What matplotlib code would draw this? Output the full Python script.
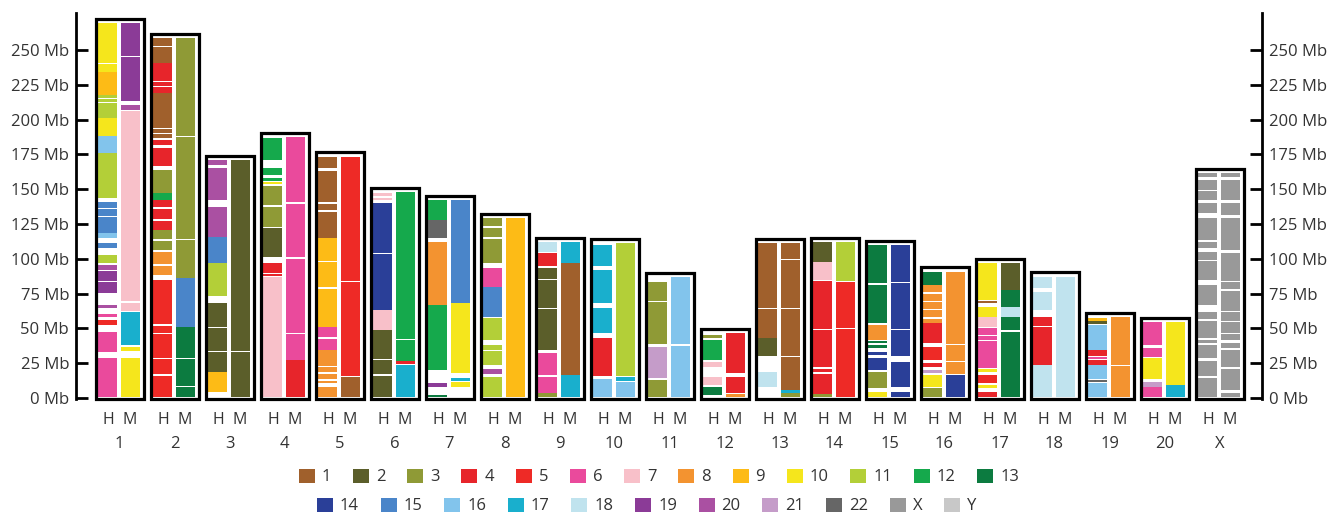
import matplotlib
matplotlib.use('Agg')
import matplotlib.pyplot as plt
import matplotlib.transforms as mtransforms
from matplotlib.patches import Rectangle, Patch

plt.rcParams['font.family'] = ['Open Sans', 'DejaVu Sans']

chroms = ['1', '2', '3', '4', '5', '6', '7', '8', '9', '10',
          '11', '12', '13', '14', '15', '16', '17', '18', '19', '20', 'X']
legend_row1 = ['1', '2', '3', '4', '5', '6', '7', '8', '9', '10', '11', '12', '13']
legend_row2 = ['14', '15', '16', '17', '18', '19', '20', '21', '22', 'X', 'Y']
yticks = [0, 25, 50, 75, 100, 125, 150, 175, 200, 225, 250]

# blocks: (start Mb, end Mb, chromosome of origin)
h1 = [(241, 269.2, '10'), (234.4, 240, '10'), (217.7, 234.4, '9'), (215.5, 217.5, '11'),
      (212.5, 214.8, '11'), (201, 211.7, '11'), (188, 201, '10'), (176, 188, '16'),
      (143.4, 176, '11'), (136.5, 141, '15'), (130.5, 135.8, '15'), (118.3, 130, '15'),
      (115, 118.3, '16'), (107.5, 111.1, '15'), (97, 102.7, '11'), (92, 95.5, '20'),
      (84, 91.5, '19'), (75.2, 83.5, '19'), (64.4, 66.8, '20'), (58.5, 60.5, '6'),
      (52.4, 56, '5'), (33.3, 47.7, '6'), (1, 28.5, '6')]
m1 = [(246, 269.2, '19'), (213.5, 245, '19'), (207, 210.5, '20'), (69.5, 206, '7'),
      (62.5, 68.5, '7'), (38, 62, '17'), (33.5, 37, '10'), (1, 28.5, '10')]
h2 = [(253, 258.4, '1'), (241, 252, '1'), (228, 240.4, '4'), (224.5, 227, '4'),
      (219, 223.5, '4'), (194, 219, '1'), (190.5, 193.5, '1'), (186.5, 189.5, '1'),
      (182, 185.5, '4'), (166.5, 179.4, '4'), (147, 163.8, '3'), (142.5, 147, '12'),
      (137, 142, '4'), (128.5, 136, '4'), (121, 127.5, '4'), (114, 120.7, '3'),
      (106.5, 113, '3'), (96, 105, '8'), (88.5, 95, '8'), (53, 84.8, '5'), (50.5, 52, '5'),
      (47, 50, '5'), (29, 46, '5'), (17, 28, '5'), (1, 16, '5')]
m2 = [(188.5, 258.4, '3'), (114.5, 187.8, '3'), (86.5, 113.8, '3'), (51, 86, '15'),
      (28.5, 51, '13'), (8.5, 27.9, '13'), (1, 7.9, '13')]
h3 = [(167.5, 171, '20'), (142.5, 165, '20'), (116, 137.5, '20'), (97, 116, '15'),
      (73, 97, '11'), (51, 68, '2'), (33.5, 50.4, '2'), (19, 32.9, '2'), (4.5, 19, '9')]
m3 = [(33.5, 171, '2'), (1, 32.9, '2')]
h4 = [(171, 186.5, '12'), (160.2, 165, '12'), (156, 158, '12'), (154, 155.5, '10'),
      (139, 152.5, '3'), (123, 137.5, '3'), (101.5, 122, '2'), (90, 96.7, '4'),
      (87.5, 89, '4'), (1, 87, '7')]
m4 = [(141, 187.7, '6'), (101, 139.5, '6'), (47, 100, '6'), (27.5, 46, '6'), (1, 27.3, '4')]
h5 = [(165, 172.9, '1'), (141, 162.8, '1'), (135, 139.3, '1'), (115, 133.5, '1'),
      (98.5, 114.7, '9'), (79.5, 97.5, '9'), (51.2, 78.5, '9'), (43.5, 51.2, '6'),
      (34.5, 42.5, '6'), (23, 34.5, '8'), (18.5, 22, '8'), (13.5, 17, '8'),
      (10.5, 12.5, '8'), (1, 8, '8')]
m5 = [(84, 173.4, '5'), (15.5, 83, '5'), (1, 15.3, '1')]
h6 = [(145, 147, '7'), (142.5, 144, '7'), (104.5, 139.8, '14'), (63.2, 103.5, '14'),
      (49, 63.2, '7'), (27.8, 48.9, '2'), (17, 27, '2'), (1, 16, '2')]
m6 = [(104.5, 148.2, '12'), (42.3, 103.9, '12'), (26.8, 41.7, '12'), (24.5, 26.5, '4'),
      (1, 24, '17')]
h7 = [(128, 142.2, '12'), (115, 127.9, '22'), (67, 112.3, '8'), (20.1, 66.8, '12'),
      (8.1, 10.5, '19'), (0.8, 2.2, '13')]
m7 = [(68, 142.2, '15'), (18, 68, '10'), (12, 14.5, '17'), (8, 11.7, '10')]
h8 = [(123.5, 129.1, '3'), (115.5, 121.9, '3'), (97, 114.5, '3'), (80, 93.2, '6'),
      (58.4, 80, '15'), (42, 57.2, '11'), (34.5, 38, '11'), (24, 33.5, '11'),
      (17, 21, '20'), (1, 15.3, '11')]
m8 = [(1, 129.1, '9')]
h9 = [(105.1, 112.3, '18'), (94.5, 104, '4'), (85.3, 93.2, '2'), (64.9, 84.7, '2'),
      (43.4, 64.3, '2'), (34.5, 42.8, '2'), (16.5, 32, '6'), (3.5, 15, '6'), (1, 3.4, '3')]
m9 = [(97, 112.3, '17'), (16.5, 96.7, '1'), (1, 16.5, '17')]
h10 = [(94.5, 110, '17'), (68, 92, '17'), (46.5, 64.4, '17'), (15.5, 42.9, '4'), (1, 14, '16')]
m10 = [(15.5, 111.1, '11'), (12, 15.3, '17'), (1, 11.7, '16')]
h11 = [(69.5, 83.6, '3'), (38.5, 68.9, '3'), (14.1, 36.9, '21'), (1, 12.9, '3')]
m11 = [(38.6, 87.1, '16'), (1, 37.6, '16')]
h12 = [(43.3, 45.3, '3'), (27.3, 41.7, '12'), (22.5, 26.1, '7'), (9.3, 15.3, '7'),
       (2.2, 8.1, '13')]
m12 = [(18, 46.5, '4'), (3.4, 15.3, '4'), (1, 3, '8')]
h13 = [(64.9, 111.1, '1'), (43, 64.3, '1'), (30, 42.9, '2'), (8.1, 18.9, '18')]
m13 = [(99.6, 111.1, '1'), (64.9, 99, '1'), (30.2, 64.3, '1'), (6, 29.6, '1'),
       (3.5, 5.7, '17'), (1, 3.4, '3')]
h14 = [(98, 112.3, '2'), (85, 97.9, '7'), (49.5, 84, '4'), (22, 48.5, '4'),
       (18.5, 21, '4'), (3, 17.5, '4'), (1, 3, '3')]
m14 = [(84, 112.3, '11'), (50.5, 83.6, '5'), (1, 49.5, '5')]
h15 = [(82.4, 109.9, '13'), (53.6, 81.2, '13'), (42, 52.4, '8'), (39.5, 41.3, '13'),
       (36, 38, '13'), (31, 33.3, '14'), (20.1, 28.5, '14'), (7, 18.9, '3'), (1, 4.5, '10')]
m15 = [(83, 109.9, '14'), (49.5, 82.4, '14'), (30, 48.9, '14'), (8.1, 26.1, '14'),
       (1, 4.5, '14')]
h16 = [(81.2, 90.8, '13'), (76, 81, '8'), (70, 75, '8'), (64, 69, '8'), (58, 63, '8'),
       (54, 57, '8'), (39.3, 53.6, '4'), (27.3, 36.9, '5'), (22, 25, '4'), (18, 20, '21'),
       (8.1, 16.5, '10'), (1, 6.9, '3')]
m16 = [(38.6, 90.8, '8'), (26.6, 38, '8'), (17, 26, '8'), (1, 16.5, '14')]
h17 = [(70.4, 96.7, '10'), (68.5, 70, '1'), (58.4, 65.6, '10'), (51.2, 58.4, '7'),
       (45.3, 50, '6'), (41.7, 44.5, '6'), (21.3, 41, '6'), (18.5, 20.5, '10'),
       (10.5, 16.5, '5'), (7, 9.3, '10'), (1, 4.5, '4')]
m17 = [(77.6, 96.7, '2'), (65.6, 77.6, '13'), (58.4, 65.6, '18'), (49, 58.4, '13'),
       (1, 47.7, '13')]
h18 = [(79, 87.2, '18'), (63.2, 76.4, '18'), (52, 58.4, '4'), (24, 51.2, '4'), (1, 23.5, '18')]
m18 = [(1, 87.2, '18')]
h19 = [(55.5, 57.2, '9'), (53, 55, '2'), (34.5, 52.4, '16'), (30, 34.5, '4'), (28, 29.5, '6'),
       (24, 27.5, '4'), (13.5, 23.5, '16'), (11.5, 13, '22'), (1, 11, '16')]
m19 = [(24, 58.4, '8'), (1, 23.2, '8')]
h20 = [(38.1, 54.8, '6'), (29.7, 35.7, '6'), (13.5, 28.5, '10'), (8.1, 11.7, '21'), (1, 8, '6')]
m20 = [(9.3, 54.8, '10'), (1, 9.3, '17')]
hX = [(159, 161.4, 'X'), (149.5, 156.6, 'X'), (142.2, 148.5, 'X'), (132.7, 139.8, 'X'),
      (113.5, 129.1, 'X'), (107.5, 112.3, 'X'), (99.5, 105.1, 'X'), (84.8, 98.5, 'X'),
      (66.8, 81.2, 'X'), (56.5, 62, 'X'), (42.9, 55.5, 'X'), (39.3, 41.7, 'X'),
      (28.5, 38.1, 'X'), (15.5, 26.7, 'X'), (1, 14.5, 'X')]
mX = [(159, 161.4, 'X'), (142.2, 156.6, 'X'), (131.5, 139.8, 'X'), (106.3, 129.1, 'X'),
      (84, 103.9, 'X'), (78, 83, 'X'), (62.5, 77, 'X'), (55.3, 61.5, 'X'), (47, 54.3, 'X'),
      (41.7, 46, 'X'), (35.7, 39.3, 'X'), (22, 34.5, 'X'), (5.7, 21, 'X'), (1, 3.4, 'X')]

human = [h1, h2, h3, h4, h5, h6, h7, h8, h9, h10, h11, h12, h13, h14, h15, h16, h17, h18, h19, h20, hX]
mouse = [m1, m2, m3, m4, m5, m6, m7, m8, m9, m10, m11, m12, m13, m14, m15, m16, m17, m18, m19, m20, mX]

colors = {'1': '#a0602c', '2': '#5b5e2a', '3': '#8f9a36', '4': '#e7252b', '5': '#ee2a26',
          '6': '#ea4a9c', '7': '#f8c0c9', '8': '#f39330', '9': '#fdbb16', '10': '#f5e61c',
          '11': '#b3cf38', '12': '#15a94c', '13': '#0c7b40', '14': '#2a3f98', '15': '#4a85c9',
          '16': '#82c4ec', '17': '#19afcd', '18': '#c0e3ee', '19': '#8b3b97', '20': '#aa50a2',
          '21': '#c59cc9', '22': '#666666', 'X': '#999999', 'Y': '#c8c8c8'}

W, H = 1330, 515
fig = plt.figure(figsize=(W / 100, H / 100), dpi=100)
fig.patch.set_facecolor('white')
ax = fig.add_axes([76 / W, (H - 399.4) / H, (1262 - 76) / W, (399.4 - 13) / H])
ax.set_xlim(-0.791, 20.773)
ax.set_ylim(-1, 276.6)

bar_w = 0.345
for i, c in enumerate(chroms):
    for s, e, src in human[i]:
        ax.add_patch(Rectangle((i - 0.218 - bar_w / 2, s), bar_w, e - s, fc=colors[src], lw=0))
    for s, e, src in mouse[i]:
        ax.add_patch(Rectangle((i + 0.2 - bar_w / 2, s), bar_w, e - s, fc=colors[src], lw=0))
    top = max(e for s, e, src in human[i] + mouse[i]) + 3
    ax.add_patch(Rectangle((i - 0.436, -0.8), 0.873, top + 0.8, fill=False,
                           ec='black', lw=2.3, clip_on=False, zorder=3))

for side in ['top', 'bottom']:
    ax.spines[side].set_visible(False)
for side in ['left', 'right']:
    ax.spines[side].set_linewidth(2.0)
ax.set_xticks([])
ax.set_yticks(yticks)
ax.set_yticklabels(['%d Mb' % v for v in yticks])
ax.tick_params(axis='y', direction='in', length=8.8, width=2.0, left=True, right=True,
               labelleft=True, labelright=True, labelsize=12, labelcolor='#333333', pad=5)

trans = mtransforms.blended_transform_factory(ax.transData, fig.transFigure)
for i, c in enumerate(chroms):
    ax.text(i - 0.21, 1 - 420 / H, 'H', transform=trans, ha='center', va='center',
            fontsize=11.5, color='#333333')
    ax.text(i + 0.19, 1 - 420 / H, 'M', transform=trans, ha='center', va='center',
            fontsize=11.5, color='#333333')
    ax.text(i, 1 - 444 / H, c, transform=trans, ha='center', va='center',
            fontsize=12, color='#333333')

def add_legend(labels, x0, yc):
    handles = [Patch(fc=colors[l], ec='none', label=l) for l in labels]
    leg = fig.legend(handles=handles, ncol=len(labels), loc='center left',
                     bbox_to_anchor=(x0 / W, 1 - yc / H), frameon=False, fontsize=12,
                     handlelength=0.96, handleheight=0.96, handletextpad=0.42,
                     columnspacing=1.3, borderpad=0, borderaxespad=0,
                     labelcolor='#333333')
    return leg

add_legend(legend_row1, 299, 477)
add_legend(legend_row2, 317, 506)

fig.savefig('out.png', dpi=100, facecolor='white')
